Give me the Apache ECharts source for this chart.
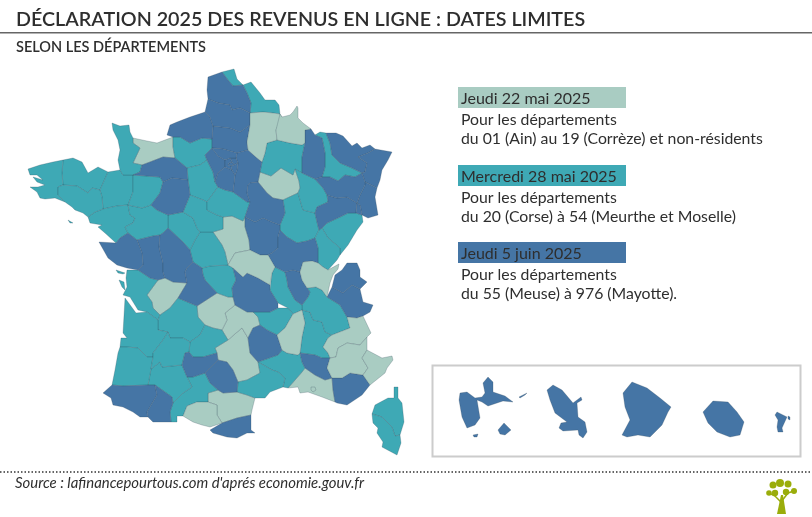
<!DOCTYPE html>
<html>
<head>
<meta charset="utf-8">
<style>html,body{margin:0;background:#fff}#chart{width:812px;height:517px}</style>
<script src="https://cdn.jsdelivr.net/npm/echarts@6/dist/echarts.min.js"></script>
</head>
<body>
<div id="chart"></div>
<script>
// departments per filing date, as coloured on the map
var dates = ["Jeudi 22 mai 2025", "Mercredi 28 mai 2025", "Jeudi 5 juin 2025"];
var notes = [
    ["Pour les départements", "du 01 (Ain) au 19 (Corrèze) et non-résidents"],
    ["Pour les départements", "du 20 (Corse) à 54 (Meurthe et Moselle)"],
    ["Pour les départements", "du 55 (Meuse) à 976 (Mayotte)."]
];
var colors = ["#a9ccc2", "#3ea9b5", "#4575a5"];
var may22 = ["01","02","03","04","05","06","07","08","09","10","11","12","13","14","15","16","18","19"];
var may28 = ["17","2A","2B","21","22","23","24","25","26","27","28","29","30","31","32","33","34","35","36","37","38","39","40","41","42","43","44","45","46","47","49","50","51","52","53","54","56","59"];
var june5 = ["48","55","57","58","60","61","62","63","64","65","66","67","68","69","70","71","72","73","74","75","76","77","78","79","80","81","82","83","84","85","86","87","88","89","90","91","92","93","94","95","971","972","973","974","976"];

// outlines; "|" starts a hole, an array item is one island
var outlines = {
    "59": ["222,72 234,69 237,79 243,85 251,82 260,93 265,100 275,100 279,105 280,114 273,113 263,112 250,113 251,103 247,93 243,85 233,86 228,80"],
    "62": ["208,77 222,72 228,80 233,86 243,85 247,93 251,103 250,113 240,108 232,110 230,105 218,103 208,99 207,90"],
    "80": ["208,99 218,103 230,105 232,110 240,108 250,113 250,125 240,132 230,128 213,126 210,117 205,112"],
    "76": ["205,112 210,117 213,126 212,139 202,138 190,143 180,137 173,137 167,135 170,125 177,122 190,117"],
    "60": ["213,126 230,128 240,132 250,125 247,142 248,150 237,153 223,149 212,148 212,139"],
    "02": ["250,113 263,112 273,113 280,114 282,117 276,130 277,140 267,143 265,153 262,162 257,158 248,150 247,142 250,125"],
    "08": ["280,114 282,117 290,115 293,112 297,106 298,108 298,118 303,123 311,129 305,130 305,143 302,145 290,143 277,140 276,130"],
    "55": ["305,130 311,129 315,135 322,138 325,153 325,167 322,177 315,179 302,173 302,157 305,143"],
    "54": ["315,135 320,132 326,133 330,143 332,155 340,163 352,168 362,173 355,177 345,175 338,181 330,177 322,177 325,167 325,153 322,138"],
    "57": ["326,133 336,133 343,136 352,146 357,143 362,148 370,145 375,149 368,153 358,157 367,163 365,172 362,173 352,168 340,163 332,155 330,143"],
    "67": ["375,149 392,152 388,160 382,170 380,180 377,188 365,182 362,173 365,172 367,163 358,157 368,153"],
    "68": ["365,182 377,188 375,197 378,215 368,218 362,215 360,205 357,203 360,195 365,185"],
    "90": ["356,213 357,203 360,205 362,215"],
    "88": ["315,179 322,177 330,177 338,181 345,175 355,177 362,173 365,182 365,185 360,195 357,203 347,197 337,198 327,195 323,188"],
    "51": ["267,143 277,140 290,143 302,145 305,143 302,157 302,173 295,169 293,175 281,168 271,176 260,172 262,162 265,153"],
    "10": ["260,172 271,176 281,168 293,175 295,169 299,181 300,188 298,193 283,200 273,198 267,193 258,182"],
    "52": ["295,169 302,173 315,179 323,188 327,195 328,202 317,207 315,213 303,210 298,193 300,188 299,181"],
    "89": ["250,183 258,182 267,193 273,198 283,200 285,213 280,225 272,222 263,218 255,222 245,217 250,202 247,193 248,185"],
    "21": ["283,200 298,193 303,210 315,213 317,222 319,230 315,238 307,241 297,243 287,237 280,230 280,225 285,213"],
    "58": ["245,217 255,222 263,218 272,222 280,225 280,230 278,237 278,248 272,253 268,255 260,255 250,250 249,240 245,227"],
    "71": ["280,230 287,237 297,243 307,241 315,238 318,248 318,263 312,261 303,262 300,272 293,270 285,272 275,267 268,255 272,253 278,248 278,237"],
    "70": ["327,195 337,198 347,197 357,203 356,213 348,213 340,217 327,223 322,228 319,230 317,222 315,213 317,207 328,202"],
    "25": ["322,228 327,223 340,217 348,213 356,213 362,215 363,222 357,230 348,245 340,255 340,248 328,238"],
    "39": ["315,238 319,230 322,228 328,238 340,248 340,255 337,260 328,270 323,267 318,263 318,248"],
    "01": ["300,272 303,262 312,261 318,263 323,267 328,270 337,265 339,264 338,269 333,275 330,283 327,297 322,290 316,287 307,288 302,280"],
    "74": ["342,270 347,263 357,263 360,270 360,277 367,282 360,289 352,285 343,293 332,287 335,275"],
    "73": ["332,287 343,293 352,285 360,289 363,302 373,305 370,312 363,316 357,318 347,317 340,305 327,297"],
    "38": ["307,288 316,287 322,290 327,297 340,305 347,317 350,328 332,335 325,332 322,322 313,320 310,312 302,310 302,305 308,297 310,292"],
    "69": ["285,272 293,270 300,272 302,280 307,288 310,292 308,297 302,305 295,300 288,287 287,280"],
    "42": ["272,273 275,267 285,272 287,280 288,287 295,300 302,305 302,310 293,314 288,308 278,303 270,290"],
    "03": ["235,253 250,250 260,255 268,255 275,267 272,273 270,285 258,278 247,273 243,277 233,268 228,265"],
    "18": ["223,217 232,216 243,221 245,217 245,227 249,240 250,250 235,253 228,265 225,252 222,245 213,232 223,229"],
    "36": ["190,250 195,240 200,232 213,232 222,245 225,252 228,265 210,266 202,268 193,262"],
    "37": ["168,215 183,212 193,218 197,228 200,232 195,240 190,250 183,242 168,228"],
    "41": ["183,212 190,195 203,200 207,202 207,210 217,215 223,217 223,229 213,232 200,232 197,228 193,218"],
    "45": ["207,202 218,187 225,190 233,192 247,202 250,202 245,217 243,221 232,216 223,217 217,215 207,210"],
    "28": ["187,168 200,165 207,160 213,172 215,182 218,187 207,202 203,200 190,195 188,180"],
    "27": ["173,137 180,137 190,143 202,138 212,139 212,148 205,155 207,160 200,165 187,168 175,158 173,147"],
    "14": ["133,138 147,141 157,143 173,137 173,147 175,158 163,157 150,162 142,165 133,163 140,148 133,143"],
    "50": ["112,123 120,126 129,125 130,132 133,138 133,143 140,148 133,163 142,165 140,172 133,175 123,175 120,170 118,160 120,150 118,140 113,130"],
    "61": ["142,165 150,162 163,157 175,158 187,168 188,180 172,178 163,182 160,177 133,175 140,172"],
    "72": ["163,182 172,178 188,180 190,195 183,212 168,215 157,210 151,205 160,193"],
    "53": ["133,175 160,177 163,182 160,193 151,205 142,208 128,205 133,192"],
    "35": ["100,190 108,172 120,170 123,175 133,175 133,192 128,205 117,206 103,209 102,197"],
    "22": ["63,160 73,158 82,162 88,173 98,167 108,172 100,190 92,188 88,193 77,186 63,185 62,173"],
    "29": ["28,169 40,165 53,162 63,160 62,173 63,185 58,187 58,195 65,202 55,198 45,199 40,198 37,192 30,187 38,187 45,185 37,182 33,177 43,180 37,175 30,175"],
    "56": ["58,187 63,185 77,186 88,193 92,188 100,190 102,197 103,209 95,212 88,217 83,213 75,210 72,207 65,202 58,195", "68,220 73,223 70,223"],
    "44": ["103,209 117,206 128,205 130,215 135,218 133,223 125,227 128,233 120,238 116,243 105,233 98,227 102,225 90,223 88,217 95,212"],
    "49": ["128,205 142,208 151,205 157,210 168,215 168,228 163,233 160,235 153,236 137,240 128,233 125,227 133,223 135,218 130,215"],
    "85": ["99,242 116,243 120,238 128,233 137,240 142,253 143,265 138,270 127,268 117,265 108,258"],
    "79": ["137,240 153,236 160,235 159,247 163,263 163,272 165,278 158,280 150,278 138,270 143,265 142,253"],
    "86": ["160,235 163,233 168,228 183,242 190,250 193,262 187,268 185,272 187,283 173,282 165,278 163,272 163,263 159,247"],
    "87": ["193,262 202,268 203,275 205,280 217,293 197,306 178,298 187,283 185,272 187,268"],
    "23": ["202,268 210,266 228,265 233,268 236,280 232,288 233,297 228,297 217,293 205,280 203,275"],
    "63": ["232,288 236,280 233,268 243,277 247,273 258,278 270,285 270,290 278,303 278,308 270,312 253,312 247,312 235,305 233,297"],
    "43": ["253,312 270,312 278,308 288,308 293,314 285,328 277,335 267,330 260,325 258,317"],
    "07": ["293,314 302,310 305,323 302,337 300,353 298,355 287,353 282,350 277,335 285,328"],
    "26": ["302,310 310,312 313,320 322,322 325,332 332,335 328,338 323,347 328,353 330,358 322,358 315,355 300,353 302,337 305,323"],
    "05": ["332,335 350,328 347,317 357,318 363,316 371,333 367,337 360,345 347,343 338,348 336,357 330,358 328,353 323,347 328,338"],
    "04": ["330,358 336,357 338,348 347,343 360,345 367,337 367,350 362,358 368,368 363,375 350,373 342,378 332,378 327,368"],
    "06": ["367,350 382,358 392,356 393,360 387,368 385,373 370,385 363,375 368,368 362,358"],
    "83": ["332,378 342,378 350,373 363,375 370,385 362,395 347,405 337,403 335,402 333,390"],
    "84": ["300,353 315,355 322,358 330,358 327,368 332,378 325,380 315,375 305,368 302,362"],
    "13": ["288,388 302,372 305,368 315,375 325,380 332,378 333,390 335,402 322,397 308,392 300,393 298,387|311,387 315,387 316,390 313,392 311,390"],
    "30": ["258,362 272,357 278,355 282,350 287,353 298,355 300,353 302,362 305,368 302,372 288,388 283,387 285,378 278,372 272,370"],
    "34": ["258,362 272,370 278,372 285,378 283,387 270,392 265,398 255,398 247,395 237,392 238,382 247,380 260,373"],
    "48": ["248,338 253,328 260,325 267,330 277,335 282,350 278,355 272,357 258,362 250,353"],
    "12": ["215,348 228,340 236,333 242,328 248,338 250,353 258,362 260,373 247,380 238,382 233,370 227,362 218,360 217,353"],
    "15": ["225,313 235,305 247,312 253,312 258,317 260,325 253,328 248,338 242,328 236,333 228,340 222,330 227,320"],
    "19": ["197,306 217,293 228,297 233,297 235,305 225,313 227,320 222,330 213,328 205,325 198,317"],
    "46": ["205,325 213,328 222,330 228,340 215,348 217,353 203,357 193,357 189,352 190,342 200,335"],
    "24": ["158,320 160,315 170,308 178,298 197,306 198,317 205,325 200,335 190,342 183,338 170,338 168,332 158,330"],
    "16": ["147,295 158,280 165,278 173,282 187,283 178,298 170,308 160,315 153,308 152,302"],
    "17": ["127,270 138,270 150,278 158,280 147,295 152,302 153,308 160,315 158,320 147,312 138,310 130,297 123,295 127,287 126,278", "119,280 124,282 125,290 122,287", "116,270 125,273 123,274 118,273"],
    "33": ["125,298 136,313 147,312 158,320 158,330 168,332 163,340 153,353 153,357 147,357 138,348 127,347 120,347 121,338 127,338 123,333"],
    "47": ["163,340 168,332 170,338 183,338 190,342 189,352 185,353 182,365 162,367 160,362 151,369 153,357 153,353"],
    "40": ["120,347 127,347 138,348 147,357 153,357 151,369 148,385 123,386 112,385 115,370 118,353"],
    "32": ["151,369 160,362 162,367 182,365 187,377 192,387 183,393 173,403 172,397 155,385 148,385"],
    "82": ["182,365 185,353 189,352 193,357 203,357 217,353 218,360 205,373 193,377 187,377"],
    "81": ["205,373 218,360 227,362 233,370 238,382 237,392 223,393 218,390 210,383"],
    "31": ["187,377 193,377 205,373 210,383 218,390 208,393 208,402 197,402 187,406 183,416 177,416 177,422 171,422 170,412 173,403 183,393 192,387"],
    "65": ["155,385 172,397 173,403 170,412 171,422 153,422 148,417 147,412 157,395"],
    "64": ["103,393 112,385 123,386 148,385 155,385 157,395 147,412 148,417 140,417 133,412 123,407 113,405 111,398"],
    "09": ["183,416 187,406 197,402 208,402 217,405 217,415 222,423 210,427 202,425 193,422"],
    "11": ["208,393 218,390 223,393 237,392 247,395 255,398 252,410 251,415 237,418 222,423 217,415 217,405 208,402"],
    "66": ["210,430 222,423 237,418 251,415 251,430 255,433 247,433 237,438 227,437 213,433"],
    "2B": ["394,387 398,387 398,398 402,403 404,422 400,435 395,436 392,427 382,417 372,414 375,405 388,398 394,398"],
    "2A": ["372,414 382,417 392,427 395,436 400,435 401,443 397,455 382,447 383,442 377,433 378,428 373,423"],
    "78": ["205,155 212,148 218,156 225,160 225,167 218,173 215,182 213,172 207,160"],
    "95": ["212,148 223,149 237,153 236,158 230,158 225,160 218,156"],
    "91": ["218,173 225,167 232,170 235,175 233,192 225,190 218,187 215,182"],
    "75": ["229,163 232,162 234,165 231,166 228,165"],
    "92": ["225,160 230,158 232,162 229,163 228,165 231,166 232,170 225,167"],
    "93": ["230,158 236,158 238,163 234,165 232,162"],
    "94": ["231,166 234,165 238,163 237,170 235,175 232,170"],
    "77": ["237,153 248,150 257,158 262,162 260,172 258,182 250,183 248,185 247,193 250,202 247,202 233,192 235,175 237,170 238,163 236,158"],
    "971": ["460,393 467,392 475,398 482,397 485,393 483,383 488,377 493,382 493,392 505,396 513,402 503,401 488,406 482,402 477,400 480,418 475,425 467,428 462,417 459,400", "498,430 504,423 511,430 505,435 500,434", "519,397 527,393 525,395 520,398", "473,435 478,434 477,437 474,437"],
    "972": ["547,390 553,385 562,390 573,403 581,397 582,400 577,403 578,417 585,422 587,432 583,438 579,435 578,430 563,431 559,428 561,423 567,422 555,413 550,400"],
    "973": ["632,382 647,388 660,398 671,407 668,412 662,425 650,437 638,435 627,437 622,435 630,420 625,407 623,393"],
    "974": ["713,401 728,402 737,412 744,422 740,435 730,437 717,432 708,423 703,412"],
    "976": ["777,412 783,415 787,417 782,428 783,432 778,432 777,427 778,420 775,415", "788,416 790,417 790,420 788,419"]
};

function ring(s) {
    return s.split(" ").map(function(p) {
        var xy = p.split(",");
        return [+xy[0], -xy[1]];
    });
}

var features = Object.keys(outlines).map(function(code) {
    return {
        type: "Feature",
        properties: { name: code },
        geometry: {
            type: "MultiPolygon",
            coordinates: outlines[code].map(function(part) {
                return part.split("|").map(ring);
            })
        }
    };
});
echarts.registerMap("france", { type: "FeatureCollection", features: features });

var mapData = [];
[may22, may28, june5].forEach(function(list, i) {
    list.forEach(function(code) {
        mapData.push({ name: code, value: i });
    });
});

var font = "Lato";
var ink = "#2e2e2e";
var graphics = [
    { type: "rect", shape: { x: 0, y: 32, width: 812, height: 1.6 }, style: { fill: "#666666" } },
    { type: "line", shape: { x1: 0, y1: 472, x2: 812, y2: 472 }, style: { stroke: "#333333", lineWidth: 1.5, lineDash: [1.5, 2] } },
    { type: "rect", shape: { x: 432.5, y: 365.5, width: 368, height: 91 }, style: { fill: "none", stroke: "#cccccc", lineWidth: 2 } },
    { type: "text", x: 16, y: 10, style: { text: "DÉCLARATION 2025 DES REVENUS EN LIGNE : DATES LIMITES", font: "600 19.7px " + font, fill: ink } },
    { type: "text", x: 16, y: 40, style: { text: "SELON LES DÉPARTEMENTS", font: "600 14.5px " + font, fill: ink } },
    { type: "text", x: 15, y: 476, style: { text: "Source : lafinancepourtous.com d'aprés economie.gouv.fr", font: "italic 14.9px " + font, fill: ink } }
];

var boxTops = [87, 165, 242];
dates.forEach(function(d, i) {
    graphics.push({ type: "rect", shape: { x: 458, y: boxTops[i], width: 168, height: 21 }, style: { fill: colors[i] } });
    graphics.push({ type: "text", x: 461, y: boxTops[i] + 3.5, style: { text: d, font: "16px " + font, fill: ink } });
    notes[i].forEach(function(line, j) {
        graphics.push({ type: "text", x: 461, y: boxTops[i] + 25 + j * 19, style: { text: line, font: "15.8px " + font, fill: ink } });
    });
});

// little tree logo
var green = "#9aad0b";
[[780, 483, 4], [773, 485, 3.5], [788, 484, 3.5], [769, 493, 2.8], [794, 491, 3], [786, 492, 3.2], [775, 493, 3.2]].forEach(function(c) {
    graphics.push({ type: "circle", shape: { cx: c[0], cy: c[1], r: c[2] }, style: { fill: green } });
});
graphics.push({ type: "polygon", shape: { points: [[777, 514], [781, 495], [783, 495], [786, 514]] }, style: { fill: green } });
graphics.push({ type: "polyline", shape: { points: [[769, 493], [775, 496], [781, 502], [788, 493], [794, 491]] }, style: { stroke: green, fill: "none", lineWidth: 1.5 } });

var chart = echarts.init(document.getElementById("chart"));
chart.setOption({
    animation: false,
    backgroundColor: "#ffffff",
    visualMap: {
        show: false,
        type: "piecewise",
        pieces: colors.map(function(c, i) {
            return { value: i, color: c };
        })
    },
    series: [{
        type: "map",
        map: "france",
        aspectScale: 1,
        boundingCoords: [[0, 0], [812, -517]],
        left: 0,
        top: 0,
        width: 812,
        height: 517,
        silent: true,
        roam: false,
        label: { show: false },
        itemStyle: { borderColor: "rgba(45,70,85,0.6)", borderWidth: 0.4 },
        data: mapData
    }],
    graphic: { elements: graphics }
});
</script>
</body>
</html>
